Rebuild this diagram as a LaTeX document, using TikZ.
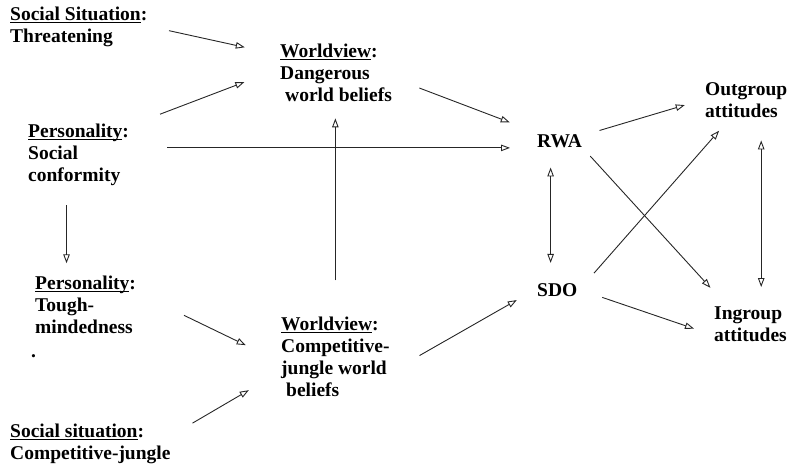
\documentclass[tikz,border=0pt]{standalone}
\usepackage{fontspec}
\setmainfont{Liberation Serif}
\usetikzlibrary{arrows.meta}
\newcommand{\undl}[1]{\setbox0\hbox{#1}\rlap{\rule[-2.5pt]{\wd0}{0.8pt}}\box0}

\begin{document}
\begin{tikzpicture}[
  x=1pt, y=-1pt,
  font=\fontsize{19.5}{22}\selectfont\bfseries,
  var/.style={anchor=base west, align=left, inner sep=2pt},
  arr/.style={-{Triangle[open, length=9pt, width=6.5pt]}, line width=0.9pt, draw=black!85},
  dbl/.style={{Triangle[open, length=9pt, width=6.5pt]}-{Triangle[open, length=9pt, width=6.5pt]}, line width=0.9pt, draw=black!85}
]
\useasboundingbox (0,0) rectangle (787,469);
% nodes placed by the baseline of their last line
\node[var] (thr) at (8,42) {\undl{Social Situation}:\\Threatening};
\node[var] (dang) at (278,101) {\undl{Worldview}:\\Dangerous\\\hspace*{5pt}world beliefs};
\node[var] (conf) at (26,181) {\undl{Personality}:\\Social\\conformity};
\node[var] (tough) at (33,333) {\undl{Personality}:\\Tough-\\mindedness};
\node[var] (dot) at (29,357) {.};
\node[var] (comp) at (279,396) {\undl{Worldview}:\\Competitive-\\jungle world\\\hspace*{5pt}beliefs};
\node[var] (jung) at (8,459) {\undl{Social situation}:\\Competitive-jungle};
\node[var] (rwa) at (535,147) {RWA};
\node[var] (sdo) at (535,296) {SDO};
\node[var] (outg) at (703,117) {Outgroup\\attitudes};
\node[var] (ingr) at (712,341) {Ingroup\\attitudes};
% paths into the worldviews
\draw[arr, shorten <=20pt, shorten >=34pt] (thr.east) -- (dang.163);
\draw[arr, shorten <=31pt, shorten >=36pt] (conf.29) -- (dang.177);
\draw[arr, shorten <=36pt, shorten >=25pt] (conf.7) -- (conf.7 -| rwa.west);
\draw[arr, shorten <=34pt, shorten >=15pt] (comp.north) -- (comp.north |- dang.south);
\draw[arr, shorten <=18pt, shorten >=10pt] (conf.-110) -- (conf.-110 |- tough.north);
\draw[arr, shorten <=51pt, shorten >=37pt] (tough.12) -- (comp.185);
\draw[arr, shorten <=23pt, shorten >=35pt] (jung.6) -- (comp.196);
% worldviews to RWA / SDO
\draw[arr, shorten <=27pt, shorten >=27pt] (dang.-6) -- (rwa.north west);
\draw[arr, shorten <=32pt, shorten >=21pt] (comp.-15) -- (sdo.west);
\draw[dbl, shorten <=18pt, shorten >=18pt] ([xshift=-9pt]rwa.south) -- ([xshift=-9pt]rwa.south |- sdo.north);
% attitudes
\draw[arr, shorten <=16pt, shorten >=19pt] (rwa.13) -- (outg.west);
\draw[arr, shorten <=9pt, shorten >=22pt] (rwa.south east) -- (ingr.142);
\draw[arr, shorten <=22pt, shorten >=15pt] (sdo.east) -- (outg.229);
\draw[arr, shorten <=24pt, shorten >=19pt] (sdo.east) -- (ingr.196);
\draw[dbl, shorten <=21pt, shorten >=17pt] ([xshift=15pt]outg.south) -- ([xshift=15pt]outg.south |- ingr.north);
\end{tikzpicture}
\end{document}
